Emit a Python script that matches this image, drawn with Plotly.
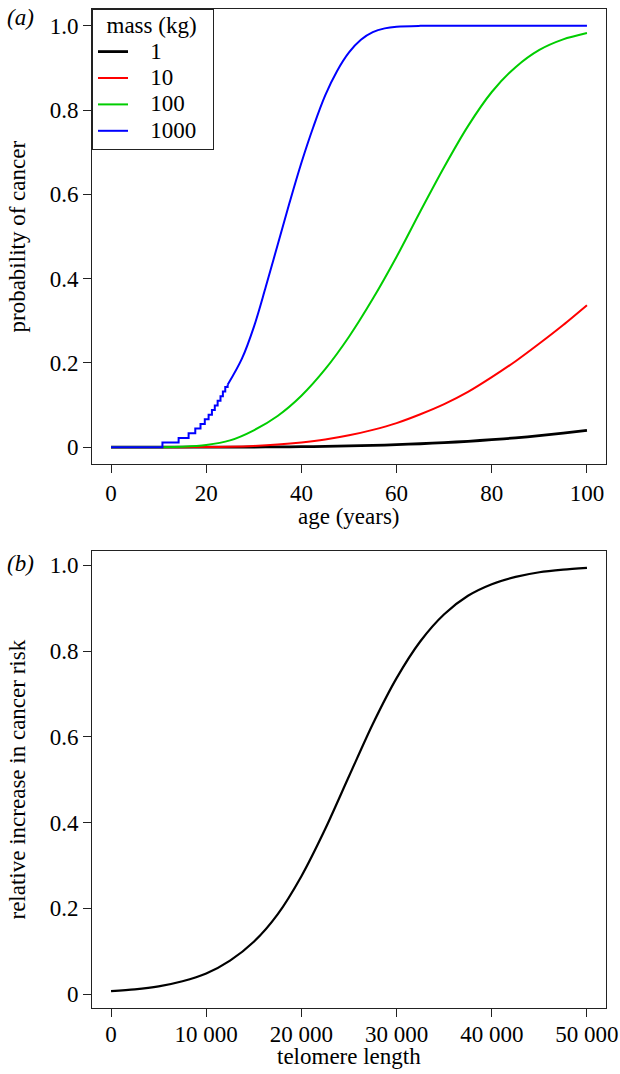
import plotly.graph_objects as go
from plotly.subplots import make_subplots

# ---------------- data: panel (a) ----------------
age = [0, 5, 10, 15, 20, 25, 30, 35, 40, 45, 50, 55, 60, 65, 70, 75, 80, 85, 90, 95, 100]
p_mass1 = [0, 0, 0, 0, 0.00003, 0.0001, 0.0003, 0.0006, 0.0011, 0.0018, 0.0029, 0.0042,
           0.0059, 0.0081, 0.0107, 0.0139, 0.0177, 0.0221, 0.0273, 0.0332, 0.040]
p_mass10 = [0, 0, 0, 0, 0.0003, 0.0011, 0.0029, 0.0061, 0.011, 0.018, 0.028, 0.041,
            0.057, 0.078, 0.102, 0.131, 0.166, 0.204, 0.246, 0.290, 0.337]
p_mass100 = [0, 0, 0, 0.001, 0.005, 0.016, 0.040, 0.074, 0.122, 0.185, 0.262, 0.352,
             0.452, 0.560, 0.665, 0.762, 0.843, 0.902, 0.943, 0.968, 0.983]

# mass 1000: stepped early part, then smooth part
age_1000_steps = [0, 10.8, 14.2, 16.3, 17.7, 18.8, 19.7, 20.5, 21.2, 21.8, 22.4, 23.0, 23.5, 24.0, 24.5]
p_1000_steps = [0, 0.011, 0.022, 0.033, 0.044, 0.055, 0.066, 0.077, 0.088, 0.099, 0.110,
                0.121, 0.132, 0.143, 0.148]
age_1000 = [24.5, 27.5, 30, 32.5, 35, 37.5, 40, 42.5, 45, 47.5, 50, 52.5, 55, 57.5, 60,
            65, 70, 80, 90, 100]
p_1000 = [0.148, 0.21, 0.285, 0.38, 0.48, 0.58, 0.675, 0.76, 0.835, 0.893, 0.937, 0.967,
          0.985, 0.994, 0.998, 1.0, 1.0, 1.0, 1.0, 1.0]

mass_labels = ["1", "10", "100", "1000"]
mass_colors = ["#000000", "#FF0000", "#00CD00", "#0000FF"]
legend_title = "mass (kg)"

# ---------------- data: panel (b) ----------------
telomere = [0, 2500, 5000, 7500, 10000, 12500, 15000, 17500, 20000, 22500, 25000,
            27500, 30000, 32500, 35000, 37500, 40000, 42500, 45000, 47500, 50000]
risk = [0.007, 0.011, 0.018, 0.030, 0.048, 0.078, 0.122, 0.186, 0.275, 0.385, 0.508,
        0.630, 0.737, 0.823, 0.886, 0.929, 0.956, 0.973, 0.984, 0.990, 0.994]

age_ticks = [0, 20, 40, 60, 80, 100]
prob_ticks = [0, 0.2, 0.4, 0.6, 0.8, 1.0]
prob_ticktext = ["0", "0.2", "0.4", "0.6", "0.8", "1.0"]
tel_ticks = [0, 10000, 20000, 30000, 40000, 50000]
tel_ticktext = ["0", "10 000", "20 000", "30 000", "40 000", "50 000"]

# ---------------- figure ----------------
W, H = 620, 1074
ML, MR, MT, MB = 92, 14, 9, 66
FONT = "Liberation Serif"
FS = 23
NB = "\u00a0"


def leg_text(s, lead=3, trail=2):
    return f"<span style='font-size:{FS}px'>{NB * lead}{s}{NB * trail}</span>"


fig = make_subplots(rows=2, cols=1, vertical_spacing=0.087)

series = [(p_mass1, 2.8), (p_mass10, 2), (p_mass100, 2)]
for (vals, lw), lab, col in zip(series, mass_labels[:3], mass_colors[:3]):
    fig.add_trace(go.Scatter(x=age, y=vals, mode="lines", name=leg_text(lab),
                             line=dict(color=col, width=lw, shape="spline", smoothing=0.8)),
                  row=1, col=1)
fig.add_trace(go.Scatter(x=age_1000_steps, y=p_1000_steps, mode="lines",
                         name=leg_text(mass_labels[3]),
                         legendgroup="m1000", showlegend=False,
                         line=dict(color=mass_colors[3], width=2, shape="hv")), row=1, col=1)
fig.add_trace(go.Scatter(x=age_1000, y=p_1000, mode="lines", name=leg_text(mass_labels[3]),
                         legendgroup="m1000",
                         line=dict(color=mass_colors[3], width=2, shape="spline", smoothing=1.0)),
              row=1, col=1)

fig.add_trace(go.Scatter(x=telomere, y=risk, mode="lines", showlegend=False,
                         line=dict(color="black", width=2.2, shape="spline", smoothing=0.8)),
              row=2, col=1)

# domains (pixel-derived)
plot_h = H - MT - MB
fig.update_layout(
    yaxis=dict(domain=[(1008 - 464) / plot_h, 1.0]),
    yaxis2=dict(domain=[0.0, (1008 - 551) / plot_h]),
)

axis_common = dict(showline=True, mirror=True, linecolor="#222222", linewidth=1,
                   ticks="outside", ticklen=8, tickcolor="#222222", tickwidth=1,
                   showgrid=False, zeroline=False, automargin=False,
                   tickfont=dict(family=FONT, size=FS, color="black"))

fig.update_xaxes(range=[-4, 104], tickvals=age_ticks, **axis_common, row=1, col=1)
fig.update_yaxes(range=[-0.04, 1.04], tickvals=prob_ticks, ticktext=prob_ticktext,
                 **axis_common, row=1, col=1)
fig.update_xaxes(range=[-2000, 52000], tickvals=tel_ticks, ticktext=tel_ticktext,
                 ticklabelstandoff=-3, **axis_common, row=2, col=1)
fig.update_yaxes(range=[-0.0325, 1.0335], tickvals=prob_ticks, ticktext=prob_ticktext,
                 **axis_common, row=2, col=1)

pw = W - ML - MR


def px_x(p):
    return (p - ML) / pw


def px_y(p):
    return (H - MB - p) / plot_h


ann_font = dict(family=FONT, size=FS, color="black")
annotations = [
    dict(text="<i>(a)</i>", x=px_x(5), y=px_y(3), xanchor="left", yanchor="top"),
    dict(text="<i>(b)</i>", x=px_x(5), y=px_y(549), xanchor="left", yanchor="top"),
    dict(text="age (years)", x=px_x(349), y=px_y(516), xanchor="center", yanchor="middle"),
    dict(text="telomere length", x=px_x(349), y=px_y(1056), xanchor="center", yanchor="middle"),
    dict(text="probability of cancer", x=px_x(17), y=px_y(236.5), textangle=-90,
         xanchor="center", yanchor="middle"),
    dict(text="relative increase in cancer risk", x=px_x(17), y=px_y(779.5), textangle=-90,
         xanchor="center", yanchor="middle"),
]
for a in annotations:
    a.update(xref="paper", yref="paper", showarrow=False, font=ann_font)

fig.update_layout(
    template="none",
    width=W, height=H,
    margin=dict(l=ML, r=MR, t=MT, b=MB, pad=0, autoexpand=False),
    paper_bgcolor="white", plot_bgcolor="white",
    font=dict(family=FONT, size=FS, color="black"),
    annotations=annotations,
    legend=dict(x=0, y=1, xref="paper", yref="paper", xanchor="left", yanchor="top",
                bgcolor="white", bordercolor="#222222", borderwidth=1,
                title=dict(text=f"<span style='font-size:{FS}px'>{NB * 2}{legend_title}</span>",
                           font=dict(family=FONT, size=18)),
                font=dict(family=FONT, size=18), itemwidth=30, tracegroupgap=0),
    showlegend=True,
)

fig.write_html("out.html", config={"displayModeBar": False},
               post_script="document.body.style.margin='0';")
